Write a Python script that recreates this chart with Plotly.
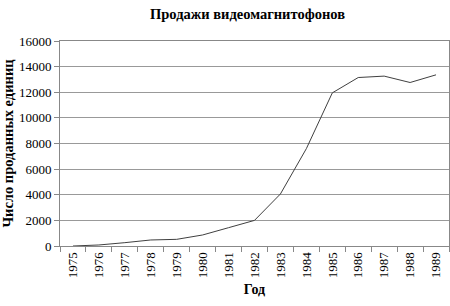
import plotly.graph_objects as go

years = ["1975", "1976", "1977", "1978", "1979", "1980", "1981", "1982",
         "1983", "1984", "1985", "1986", "1987", "1988", "1989"]
sales = [0, 80, 260, 470, 520, 860, 1430, 2000,
         4060, 7600, 11950, 13150, 13260, 12760, 13360]
y_ticks = [0, 2000, 4000, 6000, 8000, 10000, 12000, 14000, 16000]

serif = "Liberation Serif"

fig = go.Figure()
fig.add_trace(go.Scatter(
    x=years, y=sales, mode="lines",
    line=dict(color="#404040", width=1),
    hoverinfo="skip", showlegend=False,
))

fig.update_layout(
    width=450, height=306,
    margin=dict(l=60, r=1, t=41, b=60),
    paper_bgcolor="white", plot_bgcolor="white",
    title=dict(text="<b>Продажи видеомагнитофонов</b>", x=0.55, xanchor="center",
               y=0.955, yanchor="middle",
               font=dict(family=serif, size=14.5, color="#000")),
    font=dict(family=serif, size=13, color="#000"),
)
fig.update_xaxes(
    type="category", range=[-0.5, 14.5],
    tickson="boundaries", ticks="outside", ticklen=5, tickcolor="#888",
    tickangle=-90, showgrid=False,
    showline=True, linecolor="#888", linewidth=1, mirror=True,
    tickfont=dict(family=serif, size=13, color="#000"),
    title=dict(text="<b>Год</b>", font=dict(family=serif, size=14, color="#000"), standoff=6),
)
fig.update_yaxes(
    range=[0, 16000], tickvals=y_ticks, ticktext=[str(v) for v in y_ticks],
    ticks="outside", ticklen=5, tickcolor="#888",
    showgrid=True, gridcolor="#999", gridwidth=1,
    showline=True, linecolor="#888", linewidth=1, mirror=True,
    zeroline=False,
    tickfont=dict(family=serif, size=13, color="#000"),
    title=dict(text="<b>Число проданных единиц</b>", font=dict(family=serif, size=14.5, color="#000"), standoff=2),
)

fig.write_html("out.html")
